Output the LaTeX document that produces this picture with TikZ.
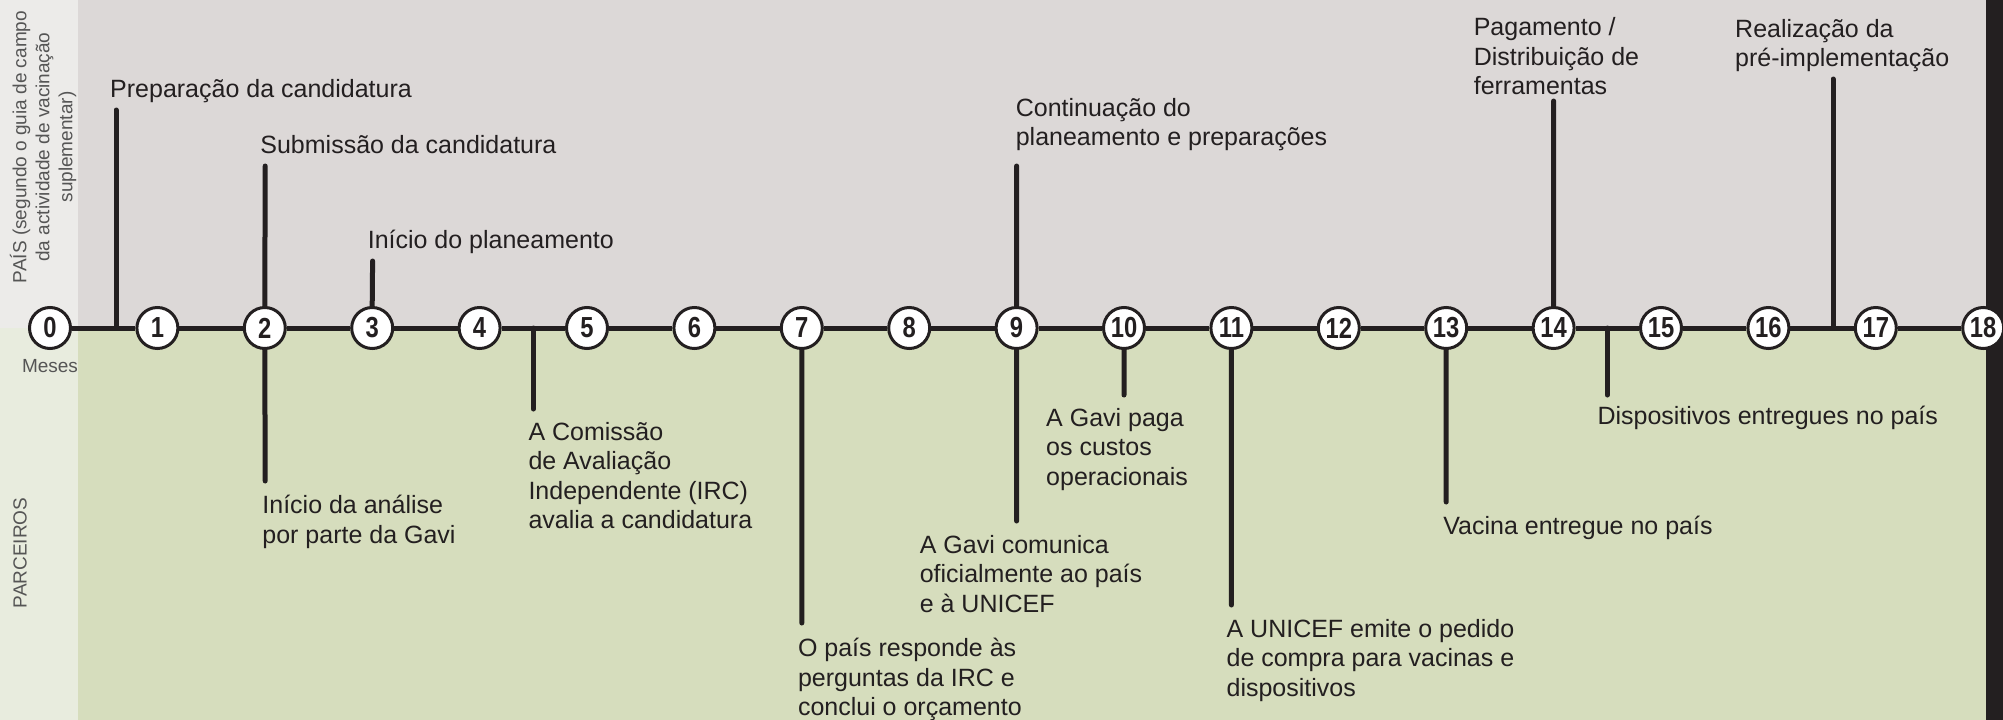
\documentclass[tikz,border=0pt]{standalone}
\usepackage{fontspec}
\setmainfont{Liberation Sans}
\newfontfamily\numfont{Liberation Sans}[FakeStretch=0.82]
\usetikzlibrary{positioning}
\definecolor{fundo}{RGB}{220,216,215}
\definecolor{verde}{RGB}{214,221,189}
\definecolor{fundoclaro}{RGB}{236,235,233}
\definecolor{verdeclaro}{RGB}{232,236,222}
\definecolor{escuro}{RGB}{35,31,32}
\definecolor{cinza}{RGB}{85,85,85}

\tikzset{
  mes/.style={circle, draw=escuro, line width=3pt, fill=white, minimum size=41pt, inner sep=0pt,
    text=escuro, font=\numfont\bfseries\fontsize{29}{29}\selectfont},
  linha/.style={line width=5pt, escuro},
  haste/.style={line width=5pt, escuro, line cap=round},
  rotulo/.style={inner sep=0pt, align=left, text=escuro, font=\fontsize{25}{29.5}\selectfont,
    execute at begin node=\strut, execute at end node=\strut},
  lado/.style={inner sep=0pt, align=center, text=cinza, font=\fontsize{19}{23}\selectfont}
}

\begin{document}
\begin{tikzpicture}[x=1pt,y=-1pt]
\useasboundingbox (0,0) rectangle (2003,720);
% fundos
\fill [fundo] (78,0) rectangle (1986,328);
\fill [verde] (78,328) rectangle (1986,720);
\fill [fundoclaro] (0,0) rectangle (78,328);
\fill [verdeclaro] (0,328) rectangle (78,720);
\fill [escuro] (1986,0) rectangle (2003,720);

% meses
\foreach \i in {0,...,18}
  \node [mes] (m\i) at ({50+107.4*\i},328) {\i};
\foreach \i [count=\j] in {0,...,17}
  \draw [linha] (m\i) -- (m\j);
\node [lado, below=9pt of m0] (meses) {Meses};
\node [lado, rotate=90] (pais) at (43,147) {PAÍS (segundo o guia de campo\\da actividade de vacinação\\suplementar)};
\node [lado, rotate=90] (parceiros) at (20,553) {PARCEIROS};

% pais (acima)
\coordinate (pa) at (116,328); \coordinate (ta) at (116,110);
\coordinate (tb) at (265.2,166);
\coordinate (tc) at (372.6,261);
\coordinate (td) at (1016.6,166);
\coordinate (te) at (1553.6,101);
\coordinate (pf) at (1833,328); \coordinate (tf) at (1833,79);
\draw [haste] (pa) -- (ta);
\draw [haste] (m2.north) -- (tb);
\draw [haste] (m3.north) -- (tc);
\draw [haste] (m9.north) -- (td);
\draw [haste] (m14.north) -- (te);
\draw [haste] (pf) -- (tf);
\node [rotulo, above right=3pt and -6pt of ta] (la) {Preparação da candidatura};
\node [rotulo, above right=3pt and -5pt of tb] (lb) {Submissão da candidatura};
\node [rotulo, above right=3pt and -5pt of tc] (lc) {Início do planeamento};
\node [rotulo, above right=11pt and -1pt of td] (ld) {Continuação do\\planeamento e preparações};
\node [rotulo, above right=-3pt and -80pt of te] (le) {Pagamento /\\Distribuição de\\ferramentas};
\node [rotulo, above right=3pt and -98pt of tf] (lf) {Realização da\\pré-implementação};

% parceiros (abaixo)
\coordinate (bg) at (265.2,481);
\coordinate (ph) at (533.3,328); \coordinate (bh) at (533.3,409);
\coordinate (bi) at (801.8,623);
\coordinate (bj) at (1016.6,521);
\coordinate (bk) at (1124,395);
\coordinate (bl) at (1231.4,605);
\coordinate (bm) at (1446.2,502);
\coordinate (pn) at (1607.3,328); \coordinate (bn) at (1607.3,395);
\draw [haste] (m2.south) -- (bg);
\draw [haste] (ph) -- (bh);
\draw [haste] (m7.south) -- (bi);
\draw [haste] (m9.south) -- (bj);
\draw [haste] (m10.south) -- (bk);
\draw [haste] (m11.south) -- (bl);
\draw [haste] (m13.south) -- (bm);
\draw [haste] (pn) -- (bn);
\node [rotulo, below right=14pt and -3pt of bg] (lg) {Início da análise\\por parte da Gavi};
\node [rotulo, below right=13pt and -5pt of bh] (lh) {A Comissão\\de Avaliação\\Independente (IRC)\\avalia a candidatura};
\node [rotulo, below right=15pt and -4pt of bi] (li) {O país responde às\\perguntas da IRC e\\conclui o orçamento};
\node [rotulo, below right=14pt and -97pt of bj] (lj) {A Gavi comunica\\oficialmente ao país\\e à UNICEF};
\node [rotulo, below right=13pt and -78pt of bk] (lk) {A Gavi paga\\os custos\\operacionais};
\node [rotulo, below right=14pt and -5pt of bl] (ll) {A UNICEF emite o pedido\\de compra para vacinas e\\dispositivos};
\node [rotulo, below right=12pt and -3pt of bm] (lm) {Vacina entregue no país};
\node [rotulo, below right=9pt and -10pt of bn] (ln) {Dispositivos entregues no país};
\end{tikzpicture}
\end{document}
